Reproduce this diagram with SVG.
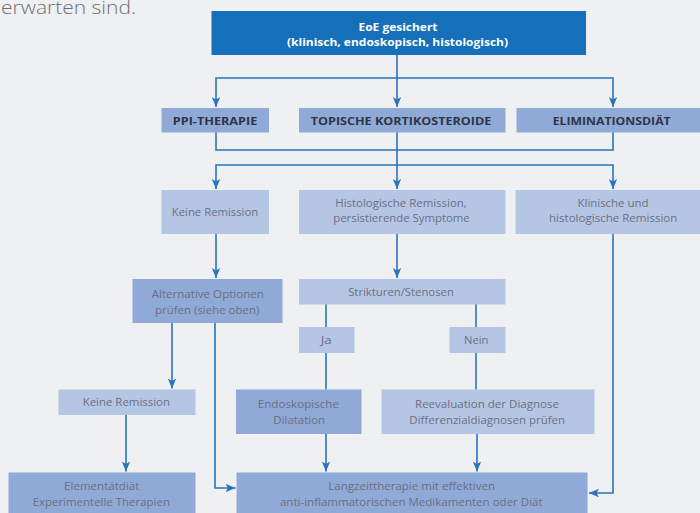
<svg xmlns="http://www.w3.org/2000/svg" width="700" height="513" viewBox="0 0 700 513">
<style>
.bg{fill:#eff0f2}
.top{fill:#1670b9}
.dk{fill:#8faad6}
.lt{fill:#b5c6e4}
.t{font-family:"Open Sans","Noto Sans",sans-serif;font-size:11px;fill:#6c6f82;text-anchor:middle}
.h{font-family:"Open Sans","Noto Sans",sans-serif;font-size:11px;font-weight:700;fill:#2f3446;text-anchor:middle}
.w{font-family:"Open Sans","Noto Sans",sans-serif;font-size:11px;font-weight:700;fill:#ffffff;text-anchor:middle}
.c{fill:none;stroke:#2a74bb;stroke-width:1.6}
.a{marker-end:url(#ah)}
</style>
<defs>
<marker id="ah" markerUnits="userSpaceOnUse" markerWidth="10" markerHeight="10" viewBox="0 0 10 10" refX="10" refY="5" orient="auto">
<path d="M0,0.8 L10,5 L0,9.2 L2.5,5 Z" fill="#2a74bb"/>
</marker>
</defs>
<rect class="bg" x="0" y="0" width="700" height="513"/>
<text x="1" y="14" font-family="'Open Sans','Noto Sans',sans-serif" font-size="18" font-weight="300" fill="#6d6f74" textLength="135" lengthAdjust="spacingAndGlyphs">erwarten sind.</text>

<g id="connectors">
<path class="c a" d="M397,55 V107"/>
<path class="c a" d="M397,78 H216 V107"/>
<path class="c a" d="M397,78 H613 V107"/>
<path class="c" d="M216,132 V150 H613 V132"/>
<path class="c a" d="M397,132 V189"/>
<path class="c a" d="M397,165 H216 V189"/>
<path class="c a" d="M397,165 H613 V189"/>
<path class="c a" d="M216,234 V278"/>
<path class="c a" d="M397,234 V278"/>
<path class="c" d="M326,304 V327"/>
<path class="c" d="M476,304 V327"/>
<path class="c" d="M326,353 V389.5"/>
<path class="c" d="M476,353 V389.5"/>
<path class="c a" d="M172,323 V388.5"/>
<path class="c a" d="M215,323 V488 H235.5"/>
<path class="c a" d="M126,415 V471.5"/>
<path class="c a" d="M326,434 V471.5"/>
<path class="c a" d="M477,434 V471.5"/>
<path class="c a" d="M613,234 V493 H589"/>
</g>

<g id="n-eoe"><rect class="top" x="211.5" y="11" width="374.5" height="44"/>
<text class="w" x="398" y="31" textLength="79" lengthAdjust="spacingAndGlyphs">EoE gesichert</text>
<text class="w" x="397.5" y="46" textLength="221" lengthAdjust="spacingAndGlyphs">(klinisch, endoskopisch, histologisch)</text></g>

<g id="n-ppi"><rect class="dk" x="161.5" y="108" width="107.5" height="24.5"/>
<text class="h" x="215" y="124.5" textLength="84.5" lengthAdjust="spacingAndGlyphs">PPI-THERAPIE</text></g>
<g id="n-topisch"><rect class="dk" x="299" y="108" width="206.5" height="24.5"/>
<text class="h" x="401" y="124.5" textLength="180.5" lengthAdjust="spacingAndGlyphs">TOPISCHE KORTIKOSTEROIDE</text></g>
<g id="n-elim"><rect class="dk" x="516.5" y="108" width="195" height="24.5"/>
<text class="h" x="611.7" y="124.5" textLength="118" lengthAdjust="spacingAndGlyphs">ELIMINATIONSDIÄT</text></g>

<g id="n-keine1"><rect class="lt" x="161.5" y="190" width="107.5" height="44"/>
<text class="t" x="215" y="215.5" textLength="86.5" lengthAdjust="spacingAndGlyphs">Keine Remission</text></g>
<g id="n-hist"><rect class="lt" x="299" y="190" width="206.5" height="44"/>
<text class="t" x="401" y="206.5" textLength="131.5" lengthAdjust="spacingAndGlyphs">Histologische Remission,</text>
<text class="t" x="401.5" y="222" textLength="136.5" lengthAdjust="spacingAndGlyphs">persistierende Symptome</text></g>
<g id="n-klin"><rect class="lt" x="515.5" y="190" width="195" height="44"/>
<text class="t" x="613" y="206.5" textLength="71" lengthAdjust="spacingAndGlyphs">Klinische und</text>
<text class="t" x="613.2" y="222" textLength="128.3" lengthAdjust="spacingAndGlyphs">histologische Remission</text></g>

<g id="n-alt"><rect class="dk" x="132.5" y="279" width="150" height="44"/>
<text class="t" x="207.8" y="298" textLength="112.3" lengthAdjust="spacingAndGlyphs">Alternative Optionen</text>
<text class="t" x="207.2" y="313.5" textLength="104.3" lengthAdjust="spacingAndGlyphs">prüfen (siehe oben)</text></g>
<g id="n-strikt"><rect class="lt" x="299" y="279" width="206.5" height="25.5"/>
<text class="t" x="401" y="295.5" textLength="105.7" lengthAdjust="spacingAndGlyphs">Strikturen/Stenosen</text></g>
<g id="n-ja"><rect class="lt" x="299" y="327" width="55.5" height="26"/>
<text class="t" x="326.2" y="343.5" textLength="11" lengthAdjust="spacingAndGlyphs">Ja</text></g>
<g id="n-nein"><rect class="lt" x="449.5" y="327" width="56" height="26"/>
<text class="t" x="476.2" y="343.5" textLength="24.3" lengthAdjust="spacingAndGlyphs">Nein</text></g>

<g id="n-keine2"><rect class="lt" x="58.5" y="389.5" width="137" height="25.5"/>
<text class="t" x="126.3" y="406" textLength="87.3" lengthAdjust="spacingAndGlyphs">Keine Remission</text></g>
<g id="n-endo"><rect class="dk" x="236" y="389.5" width="125.5" height="44.5"/>
<text class="t" x="298.4" y="407.5" textLength="81.3" lengthAdjust="spacingAndGlyphs">Endoskopische</text>
<text class="t" x="299.2" y="423.5" textLength="51.7" lengthAdjust="spacingAndGlyphs">Dilatation</text></g>
<g id="n-reeval"><rect class="lt" x="381.5" y="389.5" width="213" height="44.5"/>
<text class="t" x="487" y="407.5" textLength="144" lengthAdjust="spacingAndGlyphs">Reevaluation der Diagnose</text>
<text class="t" x="487.2" y="423.5" textLength="155.7" lengthAdjust="spacingAndGlyphs">Differenzialdiagnosen prüfen</text></g>

<g id="n-element"><rect class="dk" x="8.5" y="472.5" width="187" height="50"/>
<text class="t" x="101.7" y="490" textLength="75.3" lengthAdjust="spacingAndGlyphs">Elementätdiät</text>
<text class="t" x="101.3" y="505.5" textLength="137.3" lengthAdjust="spacingAndGlyphs">Experimentelle Therapien</text></g>
<g id="n-langzeit"><rect class="dk" x="236.5" y="472.5" width="351" height="50"/>
<text class="t" x="411.7" y="490" textLength="166.7" lengthAdjust="spacingAndGlyphs">Langzeittherapie mit effektiven</text>
<text class="t" x="411.3" y="505.5" textLength="262.7" lengthAdjust="spacingAndGlyphs">anti-inflammatorischen Medikamenten oder Diät</text></g>
</svg>
